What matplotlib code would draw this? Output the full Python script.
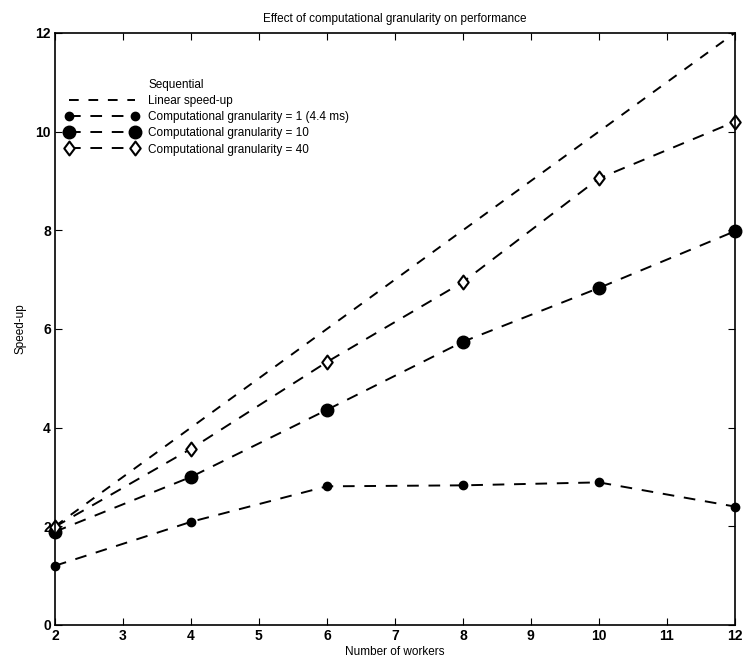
import matplotlib
matplotlib.use("Agg")
import matplotlib.pyplot as plt
from matplotlib.lines import Line2D
from matplotlib.path import Path

plt.rcParams['font.family'] = ['Liberation Sans', 'DejaVu Sans']

workers = [2, 4, 6, 8, 10, 12]
linear = [2, 4, 6, 8, 10, 12]
gran1 = [1.2, 2.09, 2.81, 2.83, 2.89, 2.40]
gran10 = [1.89, 3.0, 4.36, 5.74, 6.83, 7.98]
gran40 = [1.99, 3.57, 5.33, 6.95, 9.05, 10.2]

labels = ["Sequential", "Linear speed-up",
          "Computational granularity = 1 (4.4 ms)",
          "Computational granularity = 10",
          "Computational granularity = 40"]
xticks = list(range(2, 13))
yticks = [0, 2, 4, 6, 8, 10, 12]

diamond = Path([(0, 1), (0.75, 0), (0, -1), (-0.75, 0), (0, 1)],
               [Path.MOVETO, Path.LINETO, Path.LINETO, Path.LINETO, Path.CLOSEPOLY])

fig = plt.figure(figsize=(7.43, 6.72), dpi=100)
ax = fig.add_axes([0.074, 0.070, 0.915, 0.881])

dash = (0, (6, 5))
ax.plot(workers, linear, color='black', linestyle=(0, (5, 5)), lw=1.4)
ax.plot(workers, gran1, color='black', linestyle=dash, lw=1.4,
        marker='o', markersize=6, clip_on=False)
ax.plot(workers, gran10, color='black', linestyle=dash, lw=1.4,
        marker='o', markersize=9, clip_on=False)
ax.plot(workers, gran40, color='black', linestyle=dash, lw=1.4,
        marker=diamond, markersize=10, markerfacecolor='white', markeredgewidth=1.5,
        clip_on=False)

ax.set_xlim(2, 12)
ax.set_ylim(0, 12)
ax.set_xticks(xticks)
ax.set_yticks(yticks)
ax.tick_params(direction='in', top=True, right=True, labelsize=10, length=5, pad=3)
for lab in ax.get_xticklabels() + ax.get_yticklabels():
    lab.set_fontweight('bold')
for s in ax.spines.values():
    s.set_linewidth(1.2)

ax.set_title("Effect of computational granularity on performance", fontsize=8.5, pad=8)
ax.set_xlabel("Number of workers", fontsize=8.5, labelpad=2)
ax.set_ylabel("Speed-up", fontsize=8.5, labelpad=6)

handles = [
    Line2D([], [], linestyle='none'),
    Line2D([], [], color='black', linestyle=(0, (5, 5)), lw=1.4),
    Line2D([], [], color='black', linestyle=dash, lw=1.4, marker='o', markersize=6),
    Line2D([], [], color='black', linestyle=dash, lw=1.4, marker='o', markersize=9),
    Line2D([], [], color='black', linestyle=dash, lw=1.4, marker=diamond, markersize=10,
           markerfacecolor='white', markeredgewidth=1.5),
]
ax.legend(handles, labels, loc='upper left', bbox_to_anchor=(0.0, 0.94),
          frameon=False, fontsize=8.5, handlelength=6.2, handletextpad=0.8,
          labelspacing=0.35, numpoints=2)

fig.savefig("out.png", dpi=100)
